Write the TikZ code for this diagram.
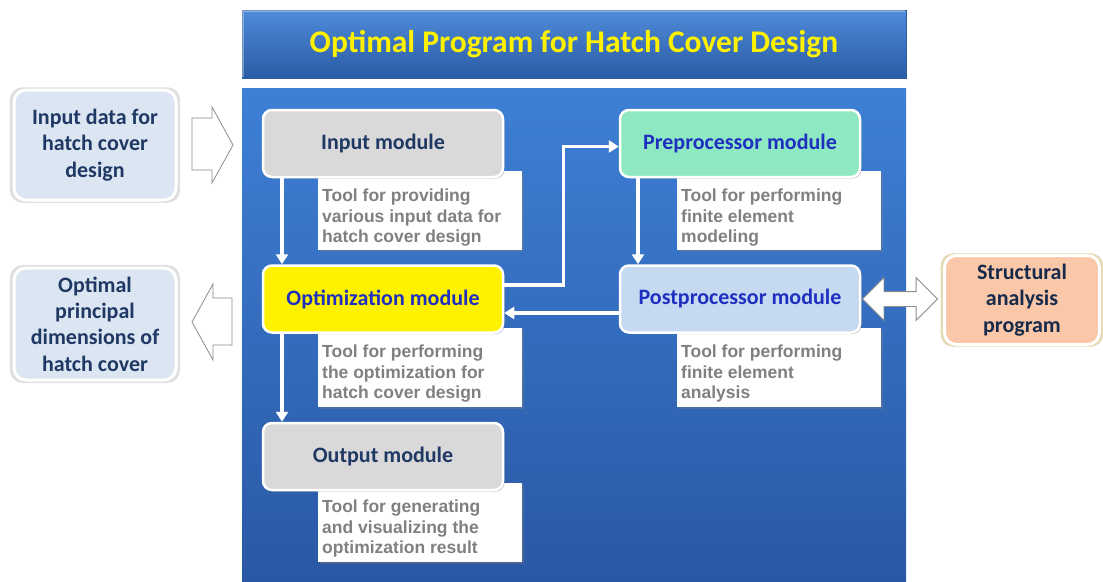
\documentclass[tikz,border=0pt]{standalone}
\usepackage{fontspec}
\setmainfont{Carlito}
\newfontfamily\descfont{Liberation Sans}
\usetikzlibrary{shadows,arrows.meta,shapes.arrows,calc}

\definecolor{panelTop}{HTML}{3D80D6}
\definecolor{panelBot}{HTML}{2A58A4}
\definecolor{titleTop}{HTML}{4F8BD8}
\definecolor{titleBot}{HTML}{2B5BA5}
\definecolor{navy}{HTML}{1F3864}
\definecolor{modblue}{HTML}{1F2FC0}
\definecolor{descgray}{HTML}{808080}
\definecolor{greyfill}{HTML}{D9D9D9}
\definecolor{mint}{HTML}{8EE9C2}
\definecolor{paleblue}{HTML}{C5D9F1}
\definecolor{sidefill}{HTML}{DCE6F2}
\definecolor{peach}{HTML}{FAC8A8}
\definecolor{outline}{HTML}{8C8C8C}

\tikzset{
  module/.style={draw=white, line width=2.5pt, rounded corners=9pt,
    minimum width=240pt, minimum height=67pt, inner sep=0pt,
    font=\fontsize{22}{24}\selectfont\bfseries,
    drop shadow={shadow xshift=1.5pt, shadow yshift=-1.5pt, opacity=0.45}},
  descbox/.style={fill=white, minimum width=204pt, minimum height=79pt, inner sep=0pt,
    drop shadow={shadow xshift=2pt, shadow yshift=-2pt, opacity=0.35}},
  desctext/.style={anchor=north west, inner sep=0pt, align=left, text=descgray,
    font=\descfont\bfseries\fontsize{17.5}{20.5}\selectfont},
  sidebox/.style={draw=white, line width=3pt, rounded corners=12pt, fill=sidefill,
    align=center, text=navy, inner sep=0pt,
    font=\fontsize{22}{26.3}\selectfont\bfseries,
    drop shadow={shadow xshift=0pt, shadow yshift=0pt, shadow scale=1.05, opacity=0.25}},
  flow/.style={draw=white, line width=3.2pt, -{Triangle[width=12pt,length=10pt]}},
  hollow/.style={draw=outline, fill=white, line width=0.8pt, line join=miter},
}

\begin{document}
\begin{tikzpicture}[x=1pt,y=-1pt]
\useasboundingbox (0,0) rectangle (1103,581);
\fill[white] (0,0) rectangle (1103,581);

% title bar and main panel
\shade[top color=titleTop, bottom color=titleBot, draw=titleBot, line width=0.6pt]
  (242,10) rectangle (906,78);
\draw[white, opacity=0.35, line width=1.5pt] (243,77) -- (243,11) -- (905,11);
\node (title) at (574,44) {\fontsize{31.5}{36}\selectfont\bfseries\color{yellow}Optimal Program for Hatch Cover Design};
\shade[top color=panelTop, bottom color=panelBot] (242,88) rectangle (906,581);

% side boxes
\node[sidebox, minimum width=162pt, minimum height=110pt] (indata) at (95,145)
  {Input data for\\hatch cover\\design};
\node[sidebox, minimum width=162pt, minimum height=112pt] (optdim) at (95,324)
  {Optimal\\principal\\dimensions of\\hatch cover};
\node[sidebox, fill=peach, text=navy!75!black, minimum width=155pt, minimum height=89pt,
      drop shadow={shadow xshift=0pt, shadow yshift=0pt, shadow scale=1.05, opacity=0.2, fill=yellow!60!orange}]
  (sap) at (1022,300) {Structural\\analysis\\program};

% hollow block arrows into and out of the panel
\path[hollow] (192,118) -- (212,118) -- (212,107) -- (233,145) -- (212,183)
  -- (212,170) -- (192,170) -- cycle;
\path[hollow] (232,298) -- (213,298) -- (213,284) -- (192,322) -- (213,360)
  -- (213,345) -- (232,345) -- cycle;
\node[double arrow, draw=outline, fill=white, line width=0.8pt, inner sep=0pt,
      inner ysep=7pt, double arrow head extend=14pt, minimum height=75pt] (arrboth) at (900,299) {};

% description boxes (behind the modules)
\node[descbox] (dIn)   at (420,210.5) {};
\node[descbox] (dOpt)  at (420,367.5) {};
\node[descbox] (dOut)  at (420,522) {};
\node[descbox] (dPre)  at (778.5,210.5) {};
\node[descbox] (dPost) at (778.5,367) {};

\node[desctext] (tIn)   at (322,189) {Tool for providing\\various input data for\\hatch cover design};
\node[desctext] (tOpt)  at (322,345) {Tool for performing\\the optimization for\\hatch cover design};
\node[desctext] (tOut)  at (322,500) {Tool for generating\\and visualizing the\\optimization result};
\node[desctext] (tPre)  at (681,189) {Tool for performing\\finite element\\modeling};
\node[desctext] (tPost) at (681,345) {Tool for performing\\finite element\\analysis};

% modules
\node[module, fill=greyfill, text=navy] (inp)  at (383,143.5) {Input module};
\node[module, fill=yellow, text=modblue] (opt) at (383,299) {Optimization module};
\node[module, fill=greyfill, text=navy] (out)  at (383,456.5) {Output module};
\node[module, fill=mint, text=modblue] (pre)   at (740,143.5) {Preprocessor module};
\node[module, fill=paleblue, text=modblue] (post) at (740,299) {Postprocessor module};

% flow between modules
\draw[flow] ([xshift=-101pt]inp.south) -- ([xshift=-101pt]opt.north);
\draw[flow] ([xshift=-101pt]opt.south) -- ([xshift=-101pt]out.north);
\draw[flow] ([yshift=14pt]opt.east) -- ++(59,0) |- ([yshift=-3pt]pre.west);
\draw[flow] ([xshift=-102pt]pre.south) -- ([xshift=-102pt]post.north);
\draw[flow] ([yshift=-14pt]post.west) -- ([yshift=-14pt]opt.east);
\end{tikzpicture}
\end{document}
